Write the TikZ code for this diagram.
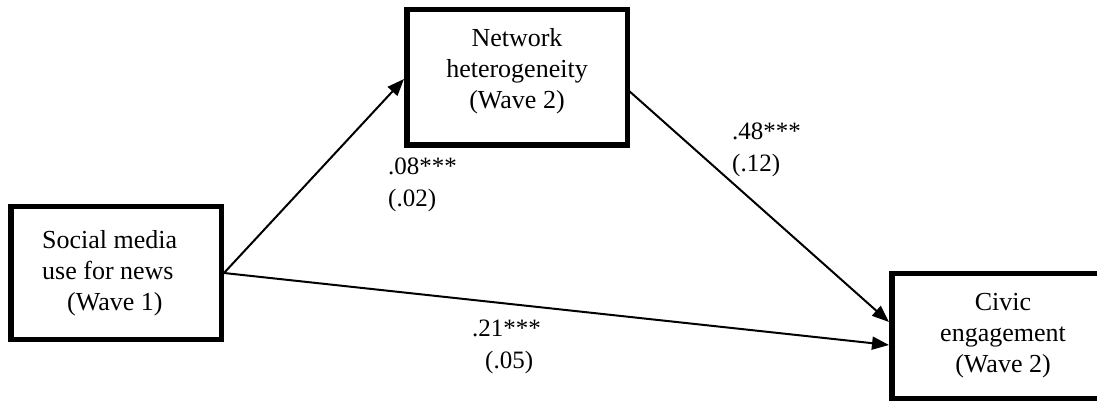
\documentclass[tikz,border=0pt]{standalone}
\usepackage{fontspec}
\setmainfont{Liberation Serif}
\usetikzlibrary{arrows.meta}
\begin{document}
\begin{tikzpicture}[x=1pt,y=-1pt,
  box/.style={draw, line width=5.5pt, rectangle, inner sep=0pt},
  txt/.style={font=\fontsize{26}{31}\selectfont, inner sep=0pt, anchor=base},
  lbl/.style={font=\fontsize{25}{32}\selectfont, inner sep=0pt, anchor=base west, align=left},
  arr/.style={line width=2pt, -{Triangle[length=17pt,width=13pt]}}]
\useasboundingbox (0,0) rectangle (1097,403);
% boxes (outer edges minus half the line width)
\node[box, minimum width=210.5pt, minimum height=132.5pt] (sm) at (116,273) {};
\node[box, minimum width=220.5pt, minimum height=135.5pt] (nh) at (517,77.5) {};
\node[box, minimum width=222.5pt, minimum height=124.5pt] (ce) at (1003,336) {};
% box texts
\node[txt, align=left, anchor=base west] (smt) at (42,310) {Social media\\use for news\\\hspace*{25pt}(Wave 1)};
\node[txt, align=center] (nht) at (517,109) {Network\\heterogeneity\\(Wave 2)};
\node[txt, align=center] (cet) at (1003,372) {Civic\\engagement\\(Wave 2)};
% connector ends
\coordinate (smo) at (224,273);
\coordinate (nhi) at (404,79);
\coordinate (nho) at (628,90);
\coordinate (cei1) at (889,322);
\coordinate (cei2) at (889,345);
\draw[arr] (smo) -- (nhi);
\draw[arr] (nho) -- (cei1);
\draw[arr] (smo) -- (cei2);
% path labels
\node[lbl] (l1) at (388,207) {.08***\\(.02)};
\node[lbl] (l2) at (732,172) {.48***\\(.12)};
\node[lbl] (l3) at (472,368) {.21***\\\hspace*{13pt}(.05)};
\end{tikzpicture}
\end{document}
